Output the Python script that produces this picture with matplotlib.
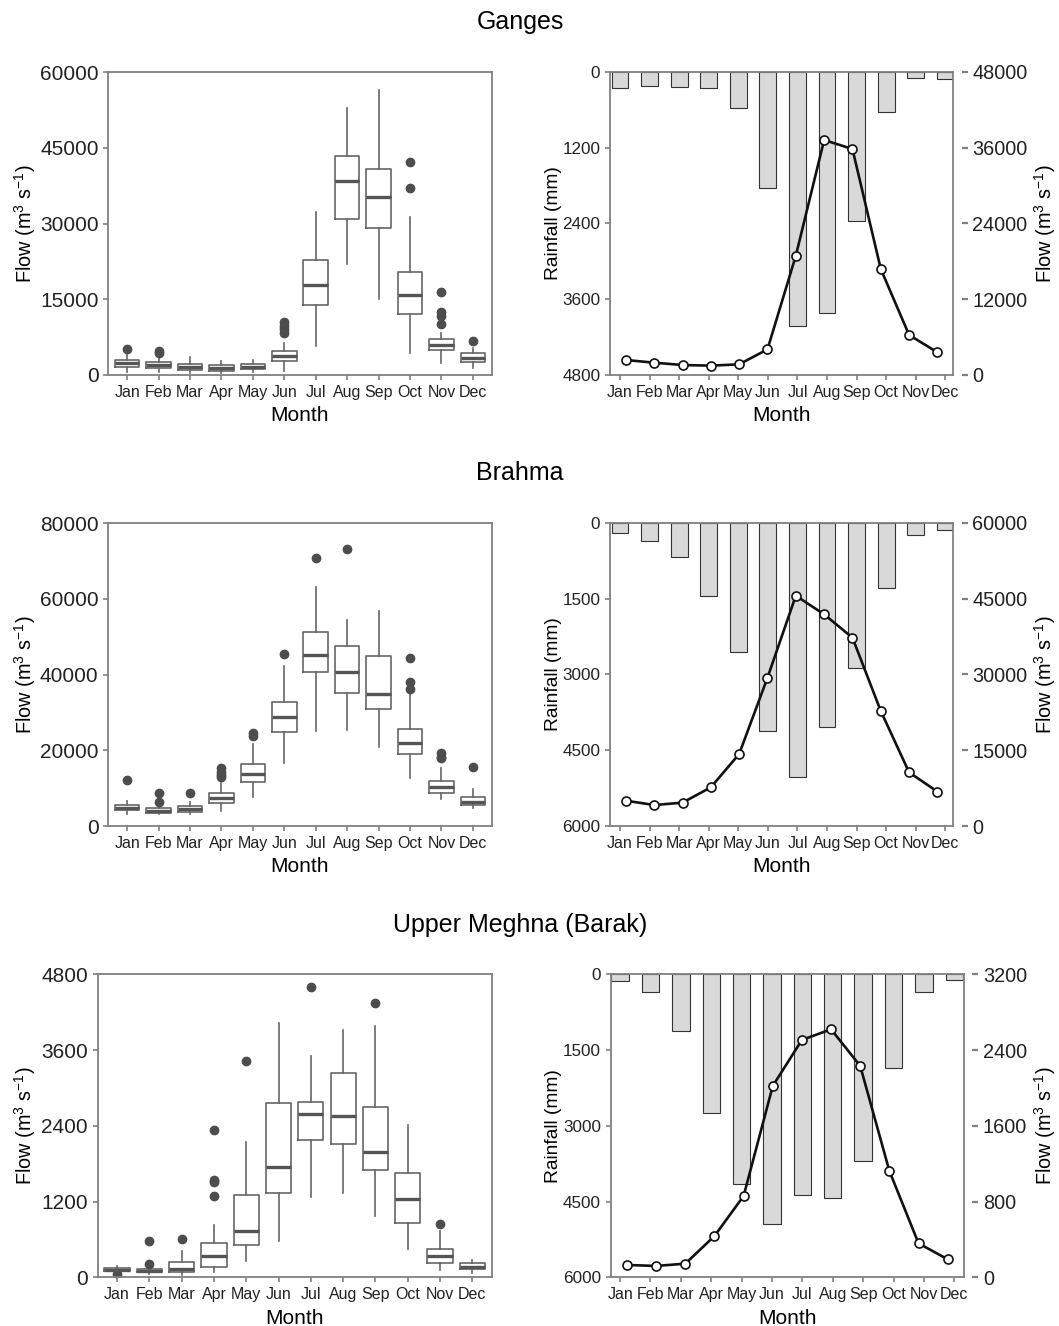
import numpy as np
import matplotlib.pyplot as plt

plt.rcParams['font.family'] = ['Liberation Sans', 'DejaVu Sans']
plt.rcParams['mathtext.fontset'] = 'custom'
plt.rcParams['mathtext.rm'] = 'Liberation Sans'
plt.rcParams['mathtext.it'] = 'Liberation Sans'
plt.rcParams['mathtext.bf'] = 'Liberation Sans'

months = ['Jan', 'Feb', 'Mar', 'Apr', 'May', 'Jun', 'Jul', 'Aug', 'Sep', 'Oct', 'Nov', 'Dec']

# Ganges - monthly flow distribution (box stats)
ganges_q1 = [1650, 1320, 990, 860, 1190, 2780, 13880, 30930, 29080, 12090, 4960, 2640]
ganges_med = [2310, 1980, 1650, 1450, 1650, 3830, 17840, 38520, 35350, 15860, 5950, 3440]
ganges_q3 = [2970, 2510, 2180, 1980, 2110, 4820, 22800, 43480, 40840, 20490, 7070, 4300]
ganges_lo = [660, 660, 460, 460, 660, 860, 5820, 22000, 15070, 4430, 2310, 1320]
ganges_hi = [4300, 3300, 3500, 2840, 2970, 6280, 32380, 53000, 56500, 31390, 8300, 5290]
ganges_out = [[5150], [4760, 4300], [], [], [], [10570, 9780, 9050, 8390], [], [], [],
              [42290, 37140], [16500, 12400, 11700, 10200], [6740]]
ganges_rain = [253, 221, 237, 258, 580, 1846, 4019, 3824, 2358, 633, 105, 121]
ganges_flow = [2370, 1950, 1580, 1480, 1690, 4060, 18880, 37190, 35760, 16770, 6330, 3590]

# Brahmaputra
brahma_q1 = [4230, 3520, 3790, 6170, 11540, 24930, 40610, 35240, 30920, 18940, 8810, 5550]
brahma_med = [4850, 4050, 4580, 7310, 13660, 28810, 45190, 40790, 34980, 21850, 10400, 6250]
brahma_q3 = [5550, 4670, 5290, 8630, 16390, 32690, 51360, 47490, 45020, 25550, 11980, 7750]
brahma_lo = [3170, 3170, 3170, 4050, 7580, 16560, 25200, 25370, 20790, 12770, 7050, 4850]
brahma_hi = [6700, 5550, 6430, 11280, 21580, 42290, 63080, 54450, 56820, 35060, 15420, 9690]
brahma_out = [[12160], [8630, 6430], [8630], [15240, 14360, 13480, 13040], [24490, 23790],
              [45370], [70740], [73210], [], [44310, 38150, 36210], [19380, 18320, 17880],
              [15680]]
brahma_rain = [211, 356, 672, 1444, 2551, 4114, 5024, 4035, 2881, 1286, 244, 145]
brahma_flow = [5010, 4150, 4615, 7650, 14240, 29340, 45560, 41870, 37250, 22750, 10610, 6790]

# Upper Meghna (Barak)
barak_q1 = [95, 80, 79, 169, 512, 1331, 2170, 2117, 1705, 866, 222, 132]
barak_med = [118, 106, 127, 343, 739, 1748, 2587, 2556, 1991, 1236, 338, 169]
barak_q3 = [140, 127, 238, 539, 1304, 2756, 2783, 3242, 2703, 1647, 443, 222]
barak_lo = [80, 53, 37, 79, 259, 576, 1267, 1331, 977, 449, 116, 74]
barak_hi = [175, 158, 422, 829, 2149, 4034, 3506, 3918, 3981, 2413, 739, 275]
barak_out = [[53], [576, 206], [602], [2334, 1542, 1515, 1288], [3427], [], [4604], [],
             [4351], [], [840], []]
barak_rain = [132, 356, 1122, 2752, 4151, 4950, 4369, 4435, 3696, 1861, 356, 112]
barak_flow = [130, 120, 144, 436, 859, 2021, 2507, 2619, 2232, 1123, 359, 190]

W, H = 1059, 1326
fig = plt.figure(figsize=(W / 100, H / 100), dpi=100)
spine_c = '#808080'
flow_lab = r'Flow (m$^3$ s$^{-1}$)'


def rect(l, r, t, b):
    return [l / W, 1 - b / H, (r - l) / W, (b - t) / H]


def style_spines(ax):
    for s in ax.spines.values():
        s.set_color(spine_c)
        s.set_linewidth(1.3)


def box_panel(pos, q1, med, q3, lo, hi, out, ymax, lab_x):
    ax = fig.add_axes(pos)
    stats = []
    for i in range(12):
        stats.append(dict(q1=q1[i], med=med[i], q3=q3[i], whislo=lo[i], whishi=hi[i],
                          fliers=out[i]))
    ax.bxp(stats, positions=np.arange(12), widths=0.78, showcaps=False,
           boxprops=dict(color='#666666', linewidth=1.2),
           whiskerprops=dict(color='#666666', linewidth=1.2),
           medianprops=dict(color='#555555', linewidth=2.4),
           flierprops=dict(marker='o', markerfacecolor='#4d4d4d', markeredgecolor='#4d4d4d',
                           markersize=6))
    ax.set_xlim(-0.6, 11.6)
    ax.set_ylim(0, ymax)
    ax.set_yticks(np.linspace(0, ymax, 5))
    ax.set_xticks(np.arange(12))
    ax.set_xticklabels(months, fontsize=11.5, color='#222222')
    ax.tick_params(axis='y', labelsize=15, colors='#222222')
    ax.tick_params(color=spine_c, length=3.5, width=1.2)
    style_spines(ax)
    ax.set_ylabel(flow_lab, fontsize=14.3)
    ax.yaxis.set_label_coords(lab_x, 0.5)
    ax.yaxis.label.set_va('center')
    ax.set_xlabel('Month', fontsize=15)
    ax.xaxis.set_label_coords(0.5, -0.135)
    ax.xaxis.label.set_va('center')
    return ax


def rain_panel(pos, rain, flow, rmax, fmax, xl, lab_l, lab_r):
    ax = fig.add_axes(pos)
    ax.bar(np.arange(12), rain, width=0.57, color='#d9d9d9', edgecolor='#333333',
           linewidth=0.8)
    ax.set_xlim(xl)
    ax.set_ylim(rmax, 0)
    ax.set_yticks(np.linspace(0, rmax, 5))
    ax.set_xticks(np.arange(12))
    ax.set_xticklabels(months, fontsize=11.5, color='#222222')
    ax.tick_params(axis='y', labelsize=12.3, colors='#222222')
    ax.tick_params(color=spine_c, length=3.5, width=1.2)
    style_spines(ax)
    ax.set_ylabel('Rainfall (mm)', fontsize=13.8)
    ax.yaxis.set_label_coords(lab_l, 0.5)
    ax.yaxis.label.set_va('center')
    ax.set_xlabel('Month', fontsize=15)
    ax.xaxis.set_label_coords(0.5, -0.135)
    ax.xaxis.label.set_va('center')

    ax2 = fig.add_axes(pos, frameon=False)
    ax2.plot(np.arange(12), flow, color='#111111', linewidth=1.9, marker='o',
             markersize=6.5, markerfacecolor='white', markeredgecolor='#111111',
             markeredgewidth=1.2, zorder=5)
    ax2.set_xlim(-0.56, 11.56)
    ax2.set_ylim(0, fmax)
    ax2.set_yticks(np.linspace(0, fmax, 5))
    ax2.xaxis.set_visible(False)
    ax2.yaxis.tick_right()
    ax2.yaxis.set_label_position('right')
    ax2.spines['right'].set_position(('outward', 6))
    ax2.tick_params(axis='y', labelsize=14.3, colors='#222222', color=spine_c,
                    length=4, width=1.6)
    ax2.set_ylabel(flow_lab, fontsize=14.3)
    ax2.yaxis.set_label_coords(lab_r, 0.5)
    ax2.yaxis.label.set_va('center')
    return ax, ax2


fig.text(520 / W, 1 - 22 / H, 'Ganges', ha='center', va='center', fontsize=18)
fig.text(520 / W, 1 - 473 / H, 'Brahma', ha='center', va='center', fontsize=18)
fig.text(520 / W, 1 - 925 / H, 'Upper Meghna (Barak)', ha='center', va='center',
         fontsize=18)

box_panel(rect(108.3, 491.7, 72.3, 375), ganges_q1, ganges_med, ganges_q3, ganges_lo,
          ganges_hi, ganges_out, 60000, -0.217)
rain_panel(rect(610, 953.3, 71.7, 375), ganges_rain, ganges_flow, 4800, 48000,
           (-0.34, 11.27), -0.165, 1.267)

box_panel(rect(108.3, 491.7, 523.3, 826), brahma_q1, brahma_med, brahma_q3, brahma_lo,
          brahma_hi, brahma_out, 80000, -0.217)
rain_panel(rect(610, 953.3, 522.7, 826), brahma_rain, brahma_flow, 6000, 60000,
           (-0.34, 11.27), -0.165, 1.267)

box_panel(rect(97.7, 491.7, 974.3, 1277.3), barak_q1, barak_med, barak_q3, barak_lo,
          barak_hi, barak_out, 4800, -0.1845)
rain_panel(rect(610.7, 964, 974.3, 1277.3), barak_rain, barak_flow, 6000, 3200,
           (-0.31, 11.32), -0.162, 1.229)

plt.savefig('out.png', dpi=100)
